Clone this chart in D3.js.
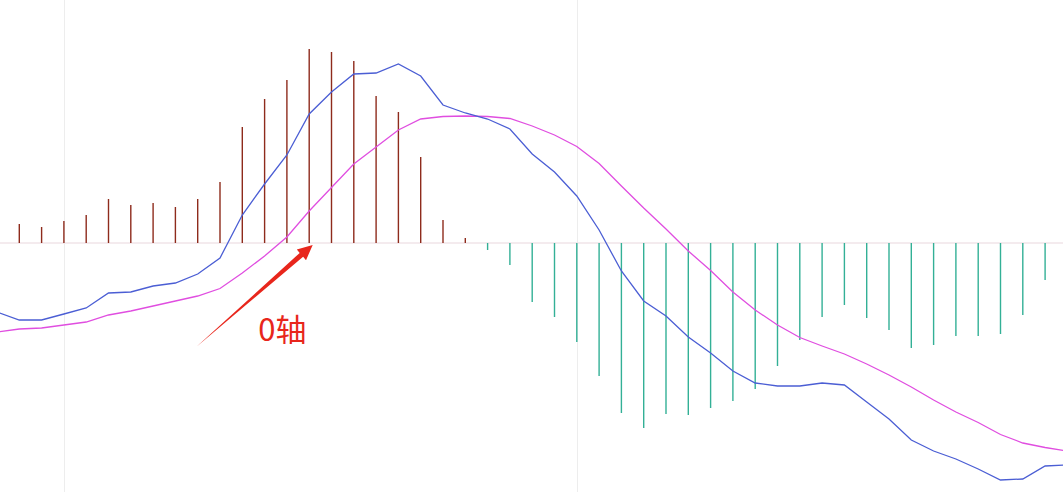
<!DOCTYPE html>
<html>
<head>
<meta charset="utf-8">
<script src="https://cdn.jsdelivr.net/npm/d3@7"></script>
<style>
html,body{margin:0;padding:0;background:#fff;overflow:hidden;}
svg{display:block;}
</style>
</head>
<body>
<svg id="chart" width="1063" height="492"></svg>
<script>
// Period indices (bars); lines also have one point before and after the visible bars
const barIndex = d3.range(0, 47);
const macdHist = [
  0.19, 0.16, 0.22, 0.28, 0.44, 0.38, 0.40, 0.36, 0.44, 0.61,
  1.16, 1.44, 1.63, 1.94, 1.91, 1.82, 1.47, 1.31, 0.86, 0.23,
  0.05, -0.07, -0.22, -0.59, -0.74, -0.99, -1.33, -1.70, -1.85, -1.71,
  -1.72, -1.65, -1.58, -1.46, -1.23, -0.97, -0.74, -0.62, -0.75, -0.87,
  -1.05, -1.02, -0.93, -0.93, -0.91, -0.72, -0.37
];
const lineIndex = d3.range(-1, 48);
const difValues = [
  -0.69,
  -0.77, -0.77, -0.71, -0.65, -0.50, -0.49, -0.43, -0.40, -0.31, -0.15,
  0.28, 0.59, 0.88, 1.29, 1.51, 1.69, 1.70, 1.79, 1.67, 1.38,
  1.30, 1.24, 1.14, 0.89, 0.71, 0.47, 0.13, -0.28, -0.58, -0.73,
  -0.94, -1.10, -1.28, -1.40, -1.43, -1.43, -1.40, -1.42, -1.59, -1.76,
  -1.97, -2.08, -2.16, -2.26, -2.37, -2.36, -2.23,
  -2.22
];
const deaValues = [
  -0.89,
  -0.86, -0.85, -0.82, -0.79, -0.72, -0.68, -0.63, -0.58, -0.53, -0.455,
  -0.30, -0.13, 0.06, 0.32, 0.555, 0.79, 0.96, 1.13, 1.24, 1.265,
  1.27, 1.265, 1.245, 1.17, 1.08, 0.965, 0.795, 0.57, 0.35, 0.14,
  -0.08, -0.275, -0.49, -0.67, -0.82, -0.945, -1.03, -1.11, -1.21, -1.32,
  -1.44, -1.57, -1.69, -1.795, -1.915, -2.0, -2.045,
  -2.08
];
const gridIndex = [2, 25];
const annotationText = "0轴";
const annotationIndex = 13;

const W = 1063, H = 492;
const svg = d3.select("#chart");

const x = d3.scaleLinear().domain([0, 46]).range([19.3, 1045.1]);
const y = d3.scaleLinear().domain([-2.49, 2.43]).range([H, 0]);

// vertical grid lines
svg.append("g").selectAll("line").data(gridIndex).join("line")
  .attr("x1", d => Math.round(x(d)) + 0.5).attr("x2", d => Math.round(x(d)) + 0.5)
  .attr("y1", 0).attr("y2", H)
  .attr("stroke", "#ededed").attr("stroke-width", 1);

// zero axis
svg.append("line")
  .attr("x1", 0).attr("x2", W)
  .attr("y1", y(0)).attr("y2", y(0))
  .attr("stroke", "#f1e4e8").attr("stroke-width", 1.5);

// histogram bars
svg.append("g").selectAll("line").data(barIndex).join("line")
  .attr("x1", i => x(i)).attr("x2", i => x(i))
  .attr("y1", y(0))
  .attr("y2", i => y(macdHist[i]))
  .attr("stroke", i => macdHist[i] >= 0 ? "#8e2b1c" : "#33b096")
  .attr("stroke-width", 1.4);

// lines
const lineGen = vals => d3.line().x((d, k) => x(lineIndex[k])).y(d => y(d))(vals);
svg.append("path").attr("d", lineGen(deaValues))
  .attr("fill", "none").attr("stroke", "#e04ee0").attr("stroke-width", 1.3);
svg.append("path").attr("d", lineGen(difValues))
  .attr("fill", "none").attr("stroke", "#4b5ed4").attr("stroke-width", 1.3);

// annotation arrow
const tipX = x(annotationIndex) + 3.5, tipY = y(0) + 2;
const tailX = x(annotationIndex) - 113, tailY = y(0) + 104;
const dx = tipX - tailX, dy = tipY - tailY;
const len = Math.hypot(dx, dy);
const ux = dx / len, uy = dy / len;
const nx = -uy, ny = ux;
const headLen = 15, headHalf = 7, shaftHalf = 2.6;
const bx = tipX - ux * headLen, by = tipY - uy * headLen;
const pts = [
  [tailX, tailY],
  [bx + nx * shaftHalf, by + ny * shaftHalf],
  [bx + nx * headHalf, by + ny * headHalf],
  [tipX, tipY],
  [bx - nx * headHalf, by - ny * headHalf],
  [bx - nx * shaftHalf, by - ny * shaftHalf]
];
svg.append("path")
  .attr("d", "M" + pts.map(p => p.join(",")).join("L") + "Z")
  .attr("fill", "#e8261c");

svg.append("text")
  .attr("x", x(annotationIndex) - 51)
  .attr("y", y(0) + 98)
  .attr("fill", "#e8261c")
  .attr("font-family", "'Noto Sans CJK SC', 'Noto Sans', sans-serif")
  .attr("font-size", 31)
  .text(annotationText);
</script>
</body>
</html>
